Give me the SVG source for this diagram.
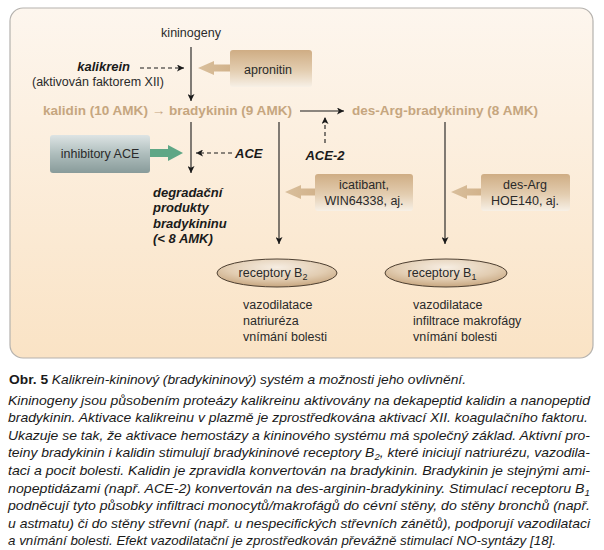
<svg xmlns="http://www.w3.org/2000/svg" width="604" height="550" viewBox="0 0 604 550">
<defs>
<linearGradient id="panelG" x1="0" y1="0" x2="0" y2="1">
<stop offset="0" stop-color="#fdf6ee"/><stop offset="1" stop-color="#fae3c5"/>
</linearGradient>
<linearGradient id="tanBox" x1="0" y1="0" x2="0" y2="1">
<stop offset="0" stop-color="#cfad84"/><stop offset="0.55" stop-color="#e3cdb0"/><stop offset="1" stop-color="#f7f0e6"/>
</linearGradient>
<linearGradient id="grayBox" x1="0" y1="0" x2="0" y2="1">
<stop offset="0" stop-color="#dde4e4"/><stop offset="0.5" stop-color="#aebdbc"/><stop offset="1" stop-color="#889b9a"/>
</linearGradient>
<radialGradient id="ellG" cx="0.5" cy="0.3" r="0.7">
<stop offset="0" stop-color="#f6ede2"/><stop offset="0.6" stop-color="#e2cdb2"/><stop offset="1" stop-color="#c7a67f"/>
</radialGradient>
<linearGradient id="tanArr" x1="0" y1="0" x2="1" y2="0">
<stop offset="0" stop-color="#d9bf9c"/><stop offset="1" stop-color="#d2b38c"/>
</linearGradient>
<marker id="ah" viewBox="0 0 10 10" refX="10" refY="5" markerWidth="7" markerHeight="7" markerUnits="userSpaceOnUse" orient="auto">
<path d="M0,0 L10,5 L0,10 L2.5,5 z" fill="#1a1a1a"/>
</marker>
<style>
.t{font-family:"Liberation Sans",Arial,sans-serif;font-size:12.5px;fill:#2a2a2a}
.bi{font-family:"Liberation Sans",Arial,sans-serif;font-size:13px;font-weight:bold;font-style:italic;fill:#1a1a1a}
.tan{font-family:"Liberation Sans",Arial,sans-serif;font-size:13.5px;font-weight:bold;fill:#c6a67f}
.cap{font-family:"Liberation Sans",Arial,sans-serif;font-size:13px;font-style:italic;fill:#1a1a1a}
.ln{stroke:#1a1a1a;stroke-width:1.1;fill:none}
.dash{stroke:#1a1a1a;stroke-width:1.1;fill:none;stroke-dasharray:4,3}
.box{fill:url(#tanBox)}
</style>
</defs>
<rect x="10" y="8" width="583" height="350" rx="13" fill="url(#panelG)" stroke="#b5b2ae" stroke-width="1.2"/>

<g id="connectors">
<line class="ln" x1="191" y1="47" x2="191" y2="101" marker-end="url(#ah)"/>
<line class="dash" x1="140" y1="68" x2="184" y2="68" marker-end="url(#ah)"/>
<polygon points="230,64.5 214,64.5 214,61 198,68 214,75 214,71.5 230,71.5" fill="url(#tanArr)"/>
<line class="ln" x1="300" y1="111" x2="344" y2="111" marker-end="url(#ah)"/>
<line class="dash" x1="325" y1="143" x2="325" y2="117" marker-end="url(#ah)"/>
<line class="ln" x1="191" y1="122" x2="191" y2="173" marker-end="url(#ah)"/>
<line class="dash" x1="232" y1="153" x2="196" y2="153" marker-end="url(#ah)"/>
<polygon points="150,149 168,149 168,145 183,153 168,161 168,157 150,157" fill="#5fa786"/>
<line class="ln" x1="279" y1="122" x2="279" y2="244" marker-end="url(#ah)"/>
<line class="ln" x1="445" y1="122" x2="445" y2="244" marker-end="url(#ah)"/>
<polygon points="315,188.5 301,188.5 301,185 285,192 301,199 301,195.5 315,195.5" fill="url(#tanArr)"/>
<polygon points="481,188.5 467,188.5 467,185 451,192 467,199 467,195.5 481,195.5" fill="url(#tanArr)"/>
</g>

<g id="kininogeny"><text class="t" x="191" y="37" text-anchor="middle">kininogeny</text></g>
<g id="kalikrein">
<text class="bi" x="130" y="71" text-anchor="end">kalikrein</text>
<text class="t" x="98" y="86" text-anchor="middle">(aktivován faktorem XII)</text>
</g>
<g id="apronitin">
<rect class="box" x="230" y="50" width="82" height="37" rx="3"/>
<text class="t" x="268" y="74" text-anchor="middle">apronitin</text>
</g>
<g id="kalidin"><text class="tan" x="43" y="115" textLength="249" lengthAdjust="spacingAndGlyphs">kalidin (10 AMK) → bradykinin (9 AMK)</text></g>
<g id="desarg"><text class="tan" x="352" y="115" textLength="186" lengthAdjust="spacingAndGlyphs">des-Arg-bradykininy (8 AMK)</text></g>
<g id="ace2"><text class="bi" x="325" y="160" text-anchor="middle">ACE-2</text></g>
<g id="inhibitory">
<rect x="50" y="135" width="100" height="38" rx="3" fill="url(#grayBox)"/>
<text class="t" x="100" y="158" text-anchor="middle">inhibitory ACE</text>
</g>
<g id="ace"><text class="bi" x="235" y="158">ACE</text></g>
<g id="degradacni">
<text class="bi" x="153" y="197">degradační</text>
<text class="bi" x="153" y="212">produkty</text>
<text class="bi" x="153" y="228">bradykininu</text>
<text class="bi" x="153" y="243">(&lt; 8 AMK)</text>
</g>
<g id="icatibant">
<rect class="box" x="315" y="174" width="98" height="37" rx="3"/>
<text class="t" x="364" y="189" text-anchor="middle">icatibant,</text>
<text class="t" x="364" y="205" text-anchor="middle">WIN64338, aj.</text>
</g>
<g id="hoe">
<rect class="box" x="481" y="174" width="89" height="37" rx="3"/>
<text class="t" x="525" y="189" text-anchor="middle">des-Arg</text>
<text class="t" x="525" y="205" text-anchor="middle">HOE140, aj.</text>
</g>
<g id="receptorB2">
<ellipse cx="277" cy="273" rx="60" ry="14" fill="url(#ellG)" stroke="#4d3f31" stroke-width="1"/>
<text class="t" x="273" y="277" text-anchor="middle">receptory B<tspan dy="3" font-size="9">2</tspan></text>
<text class="t" x="243" y="309">vazodilatace</text>
<text class="t" x="243" y="325">natriuréza</text>
<text class="t" x="243" y="341">vnímání bolesti</text>
</g>
<g id="receptorB1">
<ellipse cx="446" cy="273" rx="61" ry="14" fill="url(#ellG)" stroke="#4d3f31" stroke-width="1"/>
<text class="t" x="442" y="277" text-anchor="middle">receptory B<tspan dy="3" font-size="9">1</tspan></text>
<text class="t" x="413" y="309">vazodilatace</text>
<text class="t" x="413" y="325">infiltrace makrofágy</text>
<text class="t" x="413" y="341">vnímání bolesti</text>
</g>

<g id="caption">
<text class="cap" x="9" y="384" textLength="457" lengthAdjust="spacingAndGlyphs"><tspan font-weight="bold" font-style="normal">Obr. 5</tspan>  Kalikrein-kininový (bradykininový) systém a možnosti jeho ovlivnění.</text>
<text class="cap" x="8" y="405" textLength="582" lengthAdjust="spacingAndGlyphs">Kininogeny jsou působením proteázy kalikreinu aktivovány na dekapeptid kalidin a nanopeptid</text>
<text class="cap" x="8" y="422" textLength="580" lengthAdjust="spacingAndGlyphs">bradykinin. Aktivace kalikreinu v plazmě je zprostředkována aktivací XII. koagulačního faktoru.</text>
<text class="cap" x="8" y="440" textLength="582" lengthAdjust="spacingAndGlyphs">Ukazuje se tak, že aktivace hemostázy a kininového systému má společný základ. Aktivní pro-</text>
<text class="cap" x="8" y="457" textLength="582" lengthAdjust="spacingAndGlyphs">teiny bradykinin i kalidin stimulují bradykininové receptory B<tspan dy="3" font-size="9">2</tspan><tspan dy="-3">, které iniciují natriurézu, vazodila-</tspan></text>
<text class="cap" x="8" y="475" textLength="582" lengthAdjust="spacingAndGlyphs">taci a pocit bolesti. Kalidin je zpravidla konvertován na bradykinin. Bradykinin je stejnými ami-</text>
<text class="cap" x="8" y="493" textLength="582" lengthAdjust="spacingAndGlyphs">nopeptidázami (např. ACE-2) konvertován na des-arginin-bradykininy. Stimulací receptoru B<tspan dy="3" font-size="9">1</tspan></text>
<text class="cap" x="8" y="510" textLength="582" lengthAdjust="spacingAndGlyphs">podněcují tyto působky infiltraci monocytů/makrofágů do cévní stěny, do stěny bronchů (např.</text>
<text class="cap" x="8" y="528" textLength="582" lengthAdjust="spacingAndGlyphs">u astmatu) či do stěny střevní (např. u nespecifických střevních zánětů), podporují vazodilataci</text>
<text class="cap" x="8" y="545" textLength="548" lengthAdjust="spacingAndGlyphs">a vnímání bolesti. Efekt vazodilatační je zprostředkován převážně stimulací NO-syntázy [18].</text>
</g>
</svg>
